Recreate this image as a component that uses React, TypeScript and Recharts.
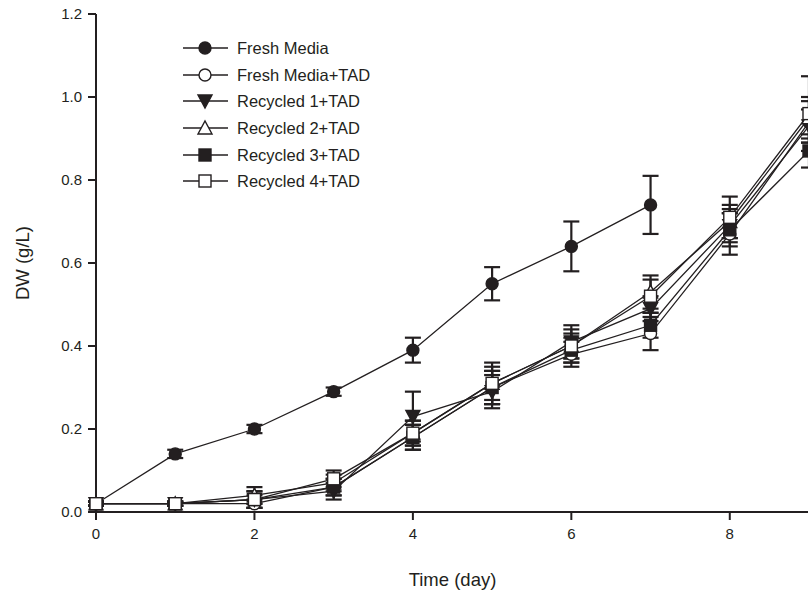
import React from 'react';
import { ComposedChart, Line, XAxis, YAxis, ErrorBar, Legend, Label } from 'recharts';

const days = [0, 1, 2, 3, 4, 5, 6, 7, 8, 9];
const freshMedia = [0.02, 0.14, 0.2, 0.29, 0.39, 0.55, 0.64, 0.74];
const freshMediaErr = [0.005, 0.01, 0.01, 0.01, 0.03, 0.04, 0.06, 0.07];
const freshTad = [0.02, 0.02, 0.02, 0.06, 0.18, 0.3, 0.38, 0.43, 0.67, 0.94];
const freshTadErr = [0.005, 0.005, 0.01, 0.02, 0.03, 0.04, 0.03, 0.04, 0.05, 0.05];
const rec1 = [0.02, 0.02, 0.03, 0.05, 0.23, 0.29, 0.41, 0.49, 0.69, 0.93];
const rec1Err = [0.005, 0.005, 0.01, 0.02, 0.06, 0.04, 0.04, 0.03, 0.04, 0.04];
const rec2 = [0.02, 0.02, 0.04, 0.07, 0.19, 0.31, 0.4, 0.53, 0.7, 0.95];
const rec2Err = [0.005, 0.005, 0.02, 0.02, 0.03, 0.05, 0.03, 0.04, 0.04, 0.05];
const rec3 = [0.02, 0.02, 0.03, 0.06, 0.18, 0.3, 0.39, 0.45, 0.68, 0.87];
const rec3Err = [0.005, 0.005, 0.02, 0.02, 0.03, 0.04, 0.03, 0.03, 0.04, 0.04];
const rec4 = [0.02, 0.02, 0.03, 0.08, 0.19, 0.31, 0.4, 0.52, 0.71, 0.96];
const rec4Err = [0.005, 0.005, 0.02, 0.02, 0.03, 0.04, 0.04, 0.04, 0.05, 0.09];
const yTicks = [0, 0.2, 0.4, 0.6, 0.8, 1.0, 1.2];
const xTicks = [0, 2, 4, 6, 8];

const INK = '#231f20';
const FONT = '"Liberation Sans", Arial, Helvetica, sans-serif';

type MarkerKind = 'circleFilled' | 'circleOpen' | 'triDownFilled' | 'triUpOpen' | 'squareFilled' | 'squareOpen';

const series: { key: string; err: string; name: string; marker: MarkerKind; values: number[]; errs: number[] }[] = [
  { key: 'fm', err: 'fmE', name: 'Fresh Media', marker: 'circleFilled', values: freshMedia, errs: freshMediaErr },
  { key: 'ft', err: 'ftE', name: 'Fresh Media+TAD', marker: 'circleOpen', values: freshTad, errs: freshTadErr },
  { key: 'r1', err: 'r1E', name: 'Recycled 1+TAD', marker: 'triDownFilled', values: rec1, errs: rec1Err },
  { key: 'r2', err: 'r2E', name: 'Recycled 2+TAD', marker: 'triUpOpen', values: rec2, errs: rec2Err },
  { key: 'r3', err: 'r3E', name: 'Recycled 3+TAD', marker: 'squareFilled', values: rec3, errs: rec3Err },
  { key: 'r4', err: 'r4E', name: 'Recycled 4+TAD', marker: 'squareOpen', values: rec4, errs: rec4Err },
];

const data = days.map((d, i) => {
  const row: Record<string, number | undefined> = { day: d };
  series.forEach((s) => {
    row[s.key] = s.values[i];
    row[s.err] = s.errs[i];
  });
  return row;
});

function Marker({ kind, cx, cy }: { kind: MarkerKind; cx: number; cy: number }) {
  const sw = 1.4;
  switch (kind) {
    case 'circleFilled':
      return <circle cx={cx} cy={cy} r={6} fill={INK} stroke={INK} strokeWidth={sw} />;
    case 'circleOpen':
      return <circle cx={cx} cy={cy} r={6} fill="#fff" stroke={INK} strokeWidth={sw} />;
    case 'triDownFilled':
      return <path d={`M${cx - 7},${cy - 6} L${cx + 7},${cy - 6} L${cx},${cy + 7} Z`} fill={INK} stroke={INK} strokeWidth={sw} />;
    case 'triUpOpen':
      return <path d={`M${cx - 7},${cy + 6} L${cx + 7},${cy + 6} L${cx},${cy - 7} Z`} fill="#fff" stroke={INK} strokeWidth={sw} />;
    case 'squareFilled':
      return <rect x={cx - 6} y={cy - 6} width={12} height={12} fill={INK} stroke={INK} strokeWidth={sw} />;
    case 'squareOpen':
    default:
      return <rect x={cx - 6} y={cy - 6} width={12} height={12} fill="#fff" stroke={INK} strokeWidth={sw} />;
  }
}

const makeDot = (kind: MarkerKind) => (p: any) => {
  if (p.cx == null || p.cy == null || p.value == null || Number.isNaN(p.cy)) return <g key={p.key} />;
  return (
    <g key={p.key}>
      <Marker kind={kind} cx={p.cx} cy={p.cy} />
    </g>
  );
};

const renderLegend = () => (
  <div style={{ fontFamily: FONT, fontSize: 16.5, color: INK }}>
    {series.map((s) => (
      <div key={s.key} style={{ display: 'flex', alignItems: 'center', height: 26.6 }}>
        <svg width={54} height={20} style={{ display: 'block' }}>
          <line x1={0} y1={10} x2={45} y2={10} stroke={INK} strokeWidth={1.6} />
          <Marker kind={s.marker} cx={22} cy={10} />
        </svg>
        <span style={{ lineHeight: '20px' }}>{s.name}</span>
      </div>
    ))}
  </div>
);

export default function App() {
  return (
    <div style={{ position: 'absolute', left: 0, top: 0, width: 808, height: 599, overflow: 'hidden', background: '#fff' }}>
      <ComposedChart width={812} height={599} data={data} margin={{ top: 14, right: 3, bottom: 0, left: 0 }}>
        <XAxis
          dataKey="day"
          type="number"
          domain={[0, 9]}
          ticks={xTicks}
          height={87}
          tickSize={8}
          tickMargin={8}
          axisLine={{ stroke: INK, strokeWidth: 2 }}
          tickLine={{ stroke: INK, strokeWidth: 2 }}
          tick={{ fill: INK, fontSize: 15, fontFamily: FONT }}
        >
          <Label value="Time (day)" position="insideBottom" offset={13} style={{ fill: INK, fontSize: 18.5, fontFamily: FONT }} />
        </XAxis>
        <YAxis
          type="number"
          domain={[0, 1.2]}
          ticks={yTicks}
          width={96}
          tickSize={8}
          tickMargin={6}
          tickFormatter={(v: number) => v.toFixed(1)}
          axisLine={{ stroke: INK, strokeWidth: 2 }}
          tickLine={{ stroke: INK, strokeWidth: 2 }}
          tick={{ fill: INK, fontSize: 15, fontFamily: FONT }}
        >
          <Label value="DW (g/L)" angle={-90} position="insideLeft" offset={22} style={{ fill: INK, fontSize: 18.5, fontFamily: FONT, textAnchor: 'middle' }} />
        </YAxis>
        <Legend
          layout="vertical"
          align="center"
          verticalAlign="middle"
          content={renderLegend}
          wrapperStyle={{ position: 'absolute', left: 183, top: 35, width: 'auto', height: 'auto' }}
        />
        {series.map((s) => (
          <Line
            key={s.key}
            dataKey={s.key}
            name={s.name}
            stroke={INK}
            strokeWidth={1.3}
            dot={makeDot(s.marker)}
            activeDot={false}
            isAnimationActive={false}
            legendType="none"
          >
            <ErrorBar dataKey={s.err} direction="y" width={8} strokeWidth={2.2} stroke={INK} isAnimationActive={false} />
          </Line>
        ))}
      </ComposedChart>
    </div>
  );
}
